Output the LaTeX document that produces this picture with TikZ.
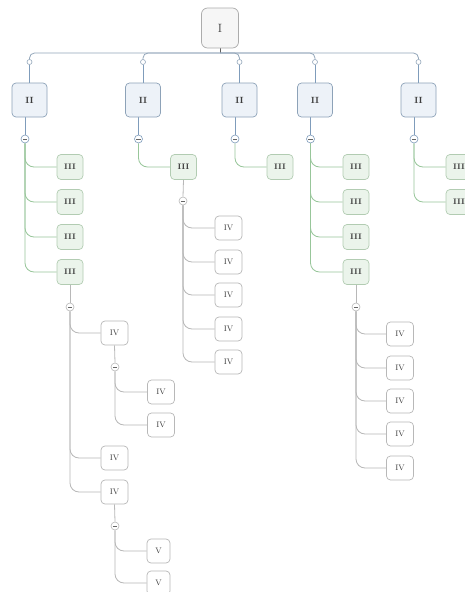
\documentclass[tikz,border=0pt]{standalone}
\usetikzlibrary{backgrounds,calc}
\definecolor{busc}{HTML}{93A6BA}
\definecolor{bluel}{HTML}{7F9CBB}
\definecolor{bluefill}{HTML}{EDF2F8}
\definecolor{blueedge}{HTML}{8DA2B8}
\definecolor{greenl}{HTML}{98C69A}
\definecolor{greenfill}{HTML}{EBF4EB}
\definecolor{greenedge}{HTML}{B2CCB2}
\definecolor{greyl}{HTML}{B8B8B8}
\definecolor{txt}{HTML}{3C3C3C}
\tikzset{
  base/.style={draw, rounded corners=4pt, inner sep=0pt, line width=0.7pt, text=txt, font=\fontsize{8}{9}\selectfont},
  lvI/.style={base, rounded corners=6pt, minimum width=37pt, minimum height=40pt, fill=gray!7, draw=gray!65, font=\fontsize{12}{14}\selectfont},
  lvII/.style={base, minimum width=35pt, minimum height=34pt, fill=bluefill, draw=blueedge, font=\fontsize{9}{10}\selectfont\bfseries},
  lvIII/.style={base, minimum width=26pt, minimum height=25pt, fill=greenfill, draw=greenedge, font=\fontsize{8}{9}\selectfont\bfseries},
  lvIV/.style={base, minimum width=27pt, minimum height=24pt, fill=white, draw=greyl},
  lvV/.style={base, minimum width=23pt, minimum height=24pt, fill=white, draw=greyl},
  tiny/.style={circle, draw=busc, fill=white, minimum size=5pt, inner sep=0pt, line width=0.6pt},
  colps/.style={circle, draw=#1, fill=white, minimum size=8pt, inner sep=0pt, line width=0.6pt,
    path picture={\draw[line width=0.9pt, gray!80!black] ([xshift=-2.2pt]path picture bounding box.center) -- ([xshift=2.2pt]path picture bounding box.center);}},
  busline/.style={draw=busc, line width=0.8pt, rounded corners=5pt},
  bline/.style={draw=bluel, line width=0.9pt},
  gline/.style={draw=greenl, line width=0.8pt, rounded corners=9pt},
  kline/.style={draw=greyl, line width=0.8pt, rounded corners=9pt},
}
\begin{document}
\begin{tikzpicture}[x=1pt, y=-1pt]
\clip (0,0) rectangle (465,592);
\useasboundingbox (0,0) rectangle (465,592);
% root
\node[lvI] (root) at (220,28) {I};
\coordinate (bus) at (220,53);
% level II
\node[lvII] (a) at (29.5,100) {II};
\node[lvII] (b) at (143,100) {II};
\node[lvII] (c) at (239.5,100) {II};
\node[lvII] (d) at (315,100) {II};
\node[lvII] (e) at (418.5,100) {II};
\foreach \n/\x in {a/29.5, b/143, c/239.5, d/315, e/418.5}{
  \node[tiny] (t\n) at (\x,62) {};
}
% collapse circles under II
\node[colps=bluel] (ca) at (25,139) {};
\node[colps=bluel] (cb) at (138.5,139) {};
\node[colps=bluel] (cc) at (235,139) {};
\node[colps=bluel] (cd) at (310.5,139) {};
\node[colps=bluel] (ce) at (414,139) {};
% column 1
\node[lvIII] (a1) at (70,167) {III};
\node[lvIII] (a2) at (70,202) {III};
\node[lvIII] (a3) at (70,237) {III};
\node[lvIII] (a4) at (70,272) {III};
\node[colps=greyl] (ca4) at (70,307) {};
\node[lvIV] (a41) at (114.5,333) {IV};
\node[lvIV] (a42) at (114.5,458) {IV};
\node[lvIV] (a43) at (114.5,492) {IV};
\node[colps=greyl] (ca41) at (115,367) {};
\node[lvIV] (a411) at (161,392) {IV};
\node[lvIV] (a412) at (161,425) {IV};
\node[colps=greyl] (ca43) at (115,526) {};
\node[lvV] (a431) at (158.5,551) {V};
\node[lvV] (a432) at (158.5,583) {V};
% column 2
\node[lvIII] (b1) at (183.5,167) {III};
\node[colps=greyl] (cb1) at (183,201) {};
\node[lvIV] (b11) at (228.5,228) {IV};
\node[lvIV] (b12) at (228.5,262) {IV};
\node[lvIV] (b13) at (228.5,295) {IV};
\node[lvIV] (b14) at (228.5,329) {IV};
\node[lvIV] (b15) at (228.5,362) {IV};
% column 3
\node[lvIII] (c1) at (280,167) {III};
% column 4
\node[lvIII] (d1) at (356,167) {III};
\node[lvIII] (d2) at (356,202) {III};
\node[lvIII] (d3) at (356,237) {III};
\node[lvIII] (d4) at (356,272) {III};
\node[colps=greyl] (cd4) at (356,307) {};
\node[lvIV] (d41) at (400,334) {IV};
\node[lvIV] (d42) at (400,368) {IV};
\node[lvIV] (d43) at (400,401) {IV};
\node[lvIV] (d44) at (400,434) {IV};
\node[lvIV] (d45) at (400,468) {IV};
% column 5
\node[lvIII] (e1) at (459,167) {III};
\node[lvIII] (e2) at (459,202) {III};

\begin{scope}[on background layer]
\fill[white] (0,0) rectangle (465,592);
\draw[draw=gray!75!black, line width=1pt] (root.south) -- (bus);
\foreach \n in {a,b,c,d,e}{
  \draw[busline] (bus) -| (t\n.north);
  \draw[bline] (t\n.south) -- (\n.north);
}
\foreach \n in {a,b,c,d,e}{
  \draw[bline] (c\n.north) -- (c\n.north |- \n.south);
}
% green connectors
\foreach \p/\c in {ca/a1, ca/a2, ca/a3, ca/a4, cb/b1, cc/c1, cd/d1, cd/d2, cd/d3, cd/d4, ce/e1, ce/e2}{
  \draw[gline] (\p.south) |- (\c.west);
}
% grey connectors
\draw[kline] (a4.south) -- (ca4.north);
\draw[kline] (b1.south) -- (cb1.north);
\draw[kline] (d4.south) -- (cd4.north);
\draw[kline] (a41.south) -- (ca41.north);
\draw[kline] (a43.south) -- (ca43.north);
\foreach \p/\c in {ca4/a41, ca4/a42, ca4/a43, ca41/a411, ca41/a412, ca43/a431, ca43/a432,
  cb1/b11, cb1/b12, cb1/b13, cb1/b14, cb1/b15, cd4/d41, cd4/d42, cd4/d43, cd4/d44, cd4/d45}{
  \draw[kline] (\p.south) |- (\c.west);
}
\end{scope}
\end{tikzpicture}
\end{document}
